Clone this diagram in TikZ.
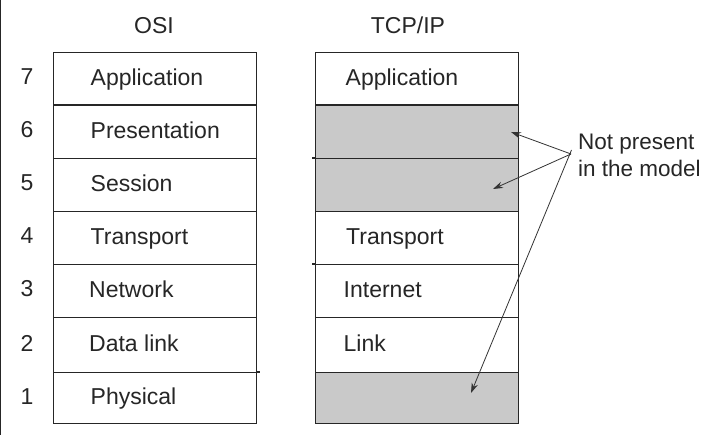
\documentclass[tikz,border=0pt]{standalone}
\usepackage{fontspec}
\setmainfont{Liberation Sans}
\usetikzlibrary{arrows.meta}
\begin{document}
\begin{tikzpicture}[x=1pt,y=-1pt,
  layer/.style={draw=black!85, line width=1.4pt, minimum width=203pt, inner sep=0pt, anchor=north west},
  txt/.style={font=\fontsize{23}{27}\selectfont, text=black!85, inner sep=0pt, text height=17pt, text depth=4pt},
  lbl/.style={txt, anchor=west},
  num/.style={txt, anchor=center},
  edge/.style={draw=black!85, line width=1.4pt},
  ptr/.style={draw=black!80, line width=0.8pt, -{Stealth[length=10pt,width=6.5pt]}}
]
\useasboundingbox (0,0) rectangle (714,435);
\fill[white] (0,0) rectangle (714,435);
\draw[line width=1.2pt, black!85] (0.6,0) -- (0.6,435);

\foreach \n/\top/\h/\c in {7/52/52.5/white, 6/104.5/53.5/black!21, 5/158/53/black!21, 4/211/53/white, 3/264/53/white, 2/317/55/white, 1/372/51/black!21}{
  \node[layer, minimum height=\h pt] (o\n) at (52.5,\top) {};
  \node[layer, fill=\c, minimum height=\h pt] (t\n) at (315,\top) {};
  \node[num] (n\n) at (27,{\top+\h/2}) {\n};
}
% small overhangs of the row lines
\draw[edge] (t5.north west) -- ++(-3.5,0);
\draw[edge] (t3.north west) -- ++(-3.5,0);
\draw[edge] (o1.north east) -- ++(3,0);

\node[txt] (osi) at (154,27) {OSI};
\node[txt] (tcp) at (408,27) {TCP/IP};

\node[lbl] (l7) at ([xshift=38pt]o7.west) {Application};
\node[lbl] (l6) at ([xshift=38pt]o6.west) {Presentation};
\node[lbl] (l5) at ([xshift=38pt]o5.west) {Session};
\node[lbl] (l4) at ([xshift=38pt]o4.west) {Transport};
\node[lbl] (l3) at ([xshift=36.5pt]o3.west) {Network};
\node[lbl] (l2) at ([xshift=36.5pt]o2.west) {Data link};
\node[lbl] (l1) at ([xshift=38pt]o1.west) {Physical};

\node[lbl] (k7) at ([xshift=30.5pt]t7.west) {Application};
\node[lbl] (k4) at ([xshift=31pt]t4.west) {Transport};
\node[lbl] (k3) at ([xshift=28.5pt]t3.west) {Internet};
\node[lbl] (k2) at ([xshift=28.5pt]t2.west) {Link};

\node[font=\fontsize{22.5}{27}\selectfont, text=black!85, align=left, anchor=west, inner sep=0pt] (note) at (578,155) {Not present\\in the model};

\coordinate (hub) at (571,154);
\coordinate (a6) at (511,132);
\coordinate (a5) at (493,189);
\coordinate (a1) at (471,393);
\draw[ptr] (hub) -- (a6);
\draw[ptr] (hub) -- (a5);
\draw[ptr] ([xshift=0.5pt,yshift=4pt]hub) -- (a1);
\end{tikzpicture}
\end{document}
